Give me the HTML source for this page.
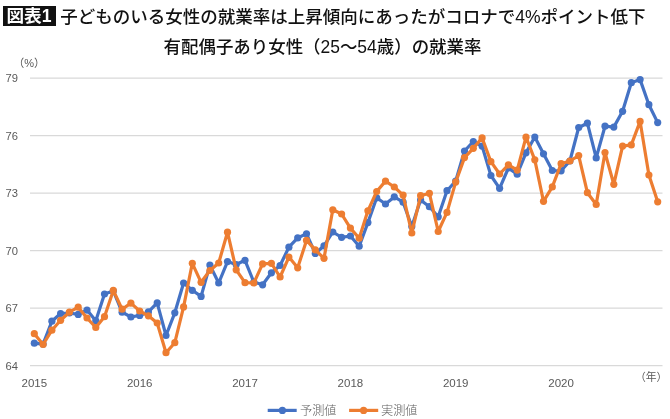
<!DOCTYPE html>
<html lang="ja"><head><meta charset="utf-8"><title>図表1</title>
<style>
html,body{margin:0;padding:0;background:#fff;}
body{width:670px;height:419px;position:relative;overflow:hidden;font-family:"Liberation Sans","Noto Sans CJK JP",sans-serif;color:#111;}
.tag{position:absolute;left:3px;top:6px;width:53px;text-indent:-1px;height:20px;background:#111;color:#fff;font-weight:700;font-size:17.6px;line-height:20px;text-align:center;white-space:nowrap;}
.title{position:absolute;left:60.3px;top:3.7px;font-weight:500;font-size:17.5px;line-height:26px;white-space:nowrap;color:#111;}
.sub{position:absolute;left:0;width:645px;top:33.8px;text-align:center;font-weight:500;font-size:17.45px;line-height:26px;white-space:nowrap;color:#111;}
</style></head><body>
<svg width="670" height="419" viewBox="0 0 670 419" style="position:absolute;left:0;top:0">
<line x1="30" x2="662.5" y1="78.1" y2="78.1" stroke="#d9d9d9" stroke-width="1.1"/>
<line x1="30" x2="662.5" y1="135.6" y2="135.6" stroke="#d9d9d9" stroke-width="1.1"/>
<line x1="30" x2="662.5" y1="193.1" y2="193.1" stroke="#d9d9d9" stroke-width="1.1"/>
<line x1="30" x2="662.5" y1="250.6" y2="250.6" stroke="#d9d9d9" stroke-width="1.1"/>
<line x1="30" x2="662.5" y1="308.1" y2="308.1" stroke="#d9d9d9" stroke-width="1.1"/>
<line x1="30" x2="662.5" y1="365.6" y2="365.6" stroke="#d9d9d9" stroke-width="1.1"/>
<polyline points="34.3,343.2 43.1,344.1 51.9,321.2 60.6,313.5 69.4,313.0 78.2,314.4 87.0,310.1 95.8,320.8 104.5,294.0 113.3,291.0 122.1,312.2 130.9,317.0 139.7,315.4 148.4,311.9 157.2,302.9 166.0,335.5 174.8,312.8 183.6,283.0 192.3,290.3 201.1,296.4 209.9,265.1 218.7,283.0 227.5,261.6 236.2,264.5 245.0,260.3 253.8,282.0 262.6,284.8 271.4,272.8 280.1,265.5 288.9,247.2 297.7,237.9 306.5,233.8 315.3,253.5 324.0,245.8 332.8,232.0 341.6,237.3 350.4,236.0 359.2,246.2 367.9,222.6 376.7,197.8 385.5,204.0 394.3,196.9 403.1,202.2 411.8,226.5 420.6,200.0 429.4,206.7 438.2,216.8 447.0,190.7 455.7,181.0 464.5,151.0 473.3,141.5 482.1,146.1 490.9,175.5 499.6,188.3 508.4,168.0 517.2,174.2 526.0,152.8 534.8,137.0 543.5,153.8 552.3,170.5 561.1,170.8 569.9,161.0 578.7,127.5 587.4,123.2 596.2,157.9 605.0,126.2 613.8,127.1 622.6,111.3 631.3,82.7 640.1,79.6 648.9,104.7 657.7,122.6" fill="none" stroke="#4472C4" stroke-width="3.2" stroke-linejoin="round" stroke-linecap="round"/>
<g fill="#4472C4"><circle cx="34.3" cy="343.2" r="3.6"/><circle cx="43.1" cy="344.1" r="3.6"/><circle cx="51.9" cy="321.2" r="3.6"/><circle cx="60.6" cy="313.5" r="3.6"/><circle cx="69.4" cy="313.0" r="3.6"/><circle cx="78.2" cy="314.4" r="3.6"/><circle cx="87.0" cy="310.1" r="3.6"/><circle cx="95.8" cy="320.8" r="3.6"/><circle cx="104.5" cy="294.0" r="3.6"/><circle cx="113.3" cy="291.0" r="3.6"/><circle cx="122.1" cy="312.2" r="3.6"/><circle cx="130.9" cy="317.0" r="3.6"/><circle cx="139.7" cy="315.4" r="3.6"/><circle cx="148.4" cy="311.9" r="3.6"/><circle cx="157.2" cy="302.9" r="3.6"/><circle cx="166.0" cy="335.5" r="3.6"/><circle cx="174.8" cy="312.8" r="3.6"/><circle cx="183.6" cy="283.0" r="3.6"/><circle cx="192.3" cy="290.3" r="3.6"/><circle cx="201.1" cy="296.4" r="3.6"/><circle cx="209.9" cy="265.1" r="3.6"/><circle cx="218.7" cy="283.0" r="3.6"/><circle cx="227.5" cy="261.6" r="3.6"/><circle cx="236.2" cy="264.5" r="3.6"/><circle cx="245.0" cy="260.3" r="3.6"/><circle cx="253.8" cy="282.0" r="3.6"/><circle cx="262.6" cy="284.8" r="3.6"/><circle cx="271.4" cy="272.8" r="3.6"/><circle cx="280.1" cy="265.5" r="3.6"/><circle cx="288.9" cy="247.2" r="3.6"/><circle cx="297.7" cy="237.9" r="3.6"/><circle cx="306.5" cy="233.8" r="3.6"/><circle cx="315.3" cy="253.5" r="3.6"/><circle cx="324.0" cy="245.8" r="3.6"/><circle cx="332.8" cy="232.0" r="3.6"/><circle cx="341.6" cy="237.3" r="3.6"/><circle cx="350.4" cy="236.0" r="3.6"/><circle cx="359.2" cy="246.2" r="3.6"/><circle cx="367.9" cy="222.6" r="3.6"/><circle cx="376.7" cy="197.8" r="3.6"/><circle cx="385.5" cy="204.0" r="3.6"/><circle cx="394.3" cy="196.9" r="3.6"/><circle cx="403.1" cy="202.2" r="3.6"/><circle cx="411.8" cy="226.5" r="3.6"/><circle cx="420.6" cy="200.0" r="3.6"/><circle cx="429.4" cy="206.7" r="3.6"/><circle cx="438.2" cy="216.8" r="3.6"/><circle cx="447.0" cy="190.7" r="3.6"/><circle cx="455.7" cy="181.0" r="3.6"/><circle cx="464.5" cy="151.0" r="3.6"/><circle cx="473.3" cy="141.5" r="3.6"/><circle cx="482.1" cy="146.1" r="3.6"/><circle cx="490.9" cy="175.5" r="3.6"/><circle cx="499.6" cy="188.3" r="3.6"/><circle cx="508.4" cy="168.0" r="3.6"/><circle cx="517.2" cy="174.2" r="3.6"/><circle cx="526.0" cy="152.8" r="3.6"/><circle cx="534.8" cy="137.0" r="3.6"/><circle cx="543.5" cy="153.8" r="3.6"/><circle cx="552.3" cy="170.5" r="3.6"/><circle cx="561.1" cy="170.8" r="3.6"/><circle cx="569.9" cy="161.0" r="3.6"/><circle cx="578.7" cy="127.5" r="3.6"/><circle cx="587.4" cy="123.2" r="3.6"/><circle cx="596.2" cy="157.9" r="3.6"/><circle cx="605.0" cy="126.2" r="3.6"/><circle cx="613.8" cy="127.1" r="3.6"/><circle cx="622.6" cy="111.3" r="3.6"/><circle cx="631.3" cy="82.7" r="3.6"/><circle cx="640.1" cy="79.6" r="3.6"/><circle cx="648.9" cy="104.7" r="3.6"/><circle cx="657.7" cy="122.6" r="3.6"/></g>
<polyline points="34.3,333.7 43.1,344.5 51.9,330.2 60.6,320.3 69.4,312.2 78.2,307.2 87.0,318.0 95.8,327.5 104.5,316.7 113.3,290.4 122.1,309.2 130.9,303.1 139.7,311.0 148.4,315.8 157.2,323.0 166.0,352.7 174.8,342.7 183.6,306.9 192.3,263.3 201.1,282.3 209.9,270.5 218.7,263.0 227.5,232.2 236.2,269.8 245.0,282.7 253.8,283.0 262.6,263.9 271.4,263.3 280.1,277.0 288.9,257.1 297.7,267.8 306.5,240.4 315.3,249.9 324.0,258.3 332.8,209.8 341.6,214.0 350.4,228.1 359.2,238.2 367.9,210.8 376.7,191.5 385.5,181.1 394.3,187.0 403.1,195.1 411.8,233.0 420.6,195.7 429.4,193.3 438.2,231.5 447.0,212.4 455.7,182.1 464.5,157.6 473.3,148.3 482.1,137.9 490.9,161.7 499.6,174.0 508.4,164.8 517.2,170.1 526.0,137.2 534.8,159.8 543.5,201.3 552.3,186.9 561.1,163.7 569.9,161.0 578.7,155.6 587.4,192.7 596.2,204.5 605.0,152.6 613.8,184.3 622.6,146.1 631.3,144.9 640.1,121.4 648.9,175.0 657.7,201.8" fill="none" stroke="#ED7D31" stroke-width="3.2" stroke-linejoin="round" stroke-linecap="round"/>
<g fill="#ED7D31"><circle cx="34.3" cy="333.7" r="3.6"/><circle cx="43.1" cy="344.5" r="3.6"/><circle cx="51.9" cy="330.2" r="3.6"/><circle cx="60.6" cy="320.3" r="3.6"/><circle cx="69.4" cy="312.2" r="3.6"/><circle cx="78.2" cy="307.2" r="3.6"/><circle cx="87.0" cy="318.0" r="3.6"/><circle cx="95.8" cy="327.5" r="3.6"/><circle cx="104.5" cy="316.7" r="3.6"/><circle cx="113.3" cy="290.4" r="3.6"/><circle cx="122.1" cy="309.2" r="3.6"/><circle cx="130.9" cy="303.1" r="3.6"/><circle cx="139.7" cy="311.0" r="3.6"/><circle cx="148.4" cy="315.8" r="3.6"/><circle cx="157.2" cy="323.0" r="3.6"/><circle cx="166.0" cy="352.7" r="3.6"/><circle cx="174.8" cy="342.7" r="3.6"/><circle cx="183.6" cy="306.9" r="3.6"/><circle cx="192.3" cy="263.3" r="3.6"/><circle cx="201.1" cy="282.3" r="3.6"/><circle cx="209.9" cy="270.5" r="3.6"/><circle cx="218.7" cy="263.0" r="3.6"/><circle cx="227.5" cy="232.2" r="3.6"/><circle cx="236.2" cy="269.8" r="3.6"/><circle cx="245.0" cy="282.7" r="3.6"/><circle cx="253.8" cy="283.0" r="3.6"/><circle cx="262.6" cy="263.9" r="3.6"/><circle cx="271.4" cy="263.3" r="3.6"/><circle cx="280.1" cy="277.0" r="3.6"/><circle cx="288.9" cy="257.1" r="3.6"/><circle cx="297.7" cy="267.8" r="3.6"/><circle cx="306.5" cy="240.4" r="3.6"/><circle cx="315.3" cy="249.9" r="3.6"/><circle cx="324.0" cy="258.3" r="3.6"/><circle cx="332.8" cy="209.8" r="3.6"/><circle cx="341.6" cy="214.0" r="3.6"/><circle cx="350.4" cy="228.1" r="3.6"/><circle cx="359.2" cy="238.2" r="3.6"/><circle cx="367.9" cy="210.8" r="3.6"/><circle cx="376.7" cy="191.5" r="3.6"/><circle cx="385.5" cy="181.1" r="3.6"/><circle cx="394.3" cy="187.0" r="3.6"/><circle cx="403.1" cy="195.1" r="3.6"/><circle cx="411.8" cy="233.0" r="3.6"/><circle cx="420.6" cy="195.7" r="3.6"/><circle cx="429.4" cy="193.3" r="3.6"/><circle cx="438.2" cy="231.5" r="3.6"/><circle cx="447.0" cy="212.4" r="3.6"/><circle cx="455.7" cy="182.1" r="3.6"/><circle cx="464.5" cy="157.6" r="3.6"/><circle cx="473.3" cy="148.3" r="3.6"/><circle cx="482.1" cy="137.9" r="3.6"/><circle cx="490.9" cy="161.7" r="3.6"/><circle cx="499.6" cy="174.0" r="3.6"/><circle cx="508.4" cy="164.8" r="3.6"/><circle cx="517.2" cy="170.1" r="3.6"/><circle cx="526.0" cy="137.2" r="3.6"/><circle cx="534.8" cy="159.8" r="3.6"/><circle cx="543.5" cy="201.3" r="3.6"/><circle cx="552.3" cy="186.9" r="3.6"/><circle cx="561.1" cy="163.7" r="3.6"/><circle cx="569.9" cy="161.0" r="3.6"/><circle cx="578.7" cy="155.6" r="3.6"/><circle cx="587.4" cy="192.7" r="3.6"/><circle cx="596.2" cy="204.5" r="3.6"/><circle cx="605.0" cy="152.6" r="3.6"/><circle cx="613.8" cy="184.3" r="3.6"/><circle cx="622.6" cy="146.1" r="3.6"/><circle cx="631.3" cy="144.9" r="3.6"/><circle cx="640.1" cy="121.4" r="3.6"/><circle cx="648.9" cy="175.0" r="3.6"/><circle cx="657.7" cy="201.8" r="3.6"/></g>
<line x1="267.7" x2="296.7" y1="410.4" y2="410.4" stroke="#4472C4" stroke-width="3.2"/><circle cx="282.4" cy="410.4" r="3.6" fill="#4472C4"/>
<line x1="349.1" x2="378.2" y1="410.4" y2="410.4" stroke="#ED7D31" stroke-width="3.2"/><circle cx="363.6" cy="410.4" r="3.6" fill="#ED7D31"/>
<g font-family="'Liberation Sans','Noto Sans CJK JP',sans-serif" fill="#595959">
<text x="5.6" y="82.1" font-size="11.2">79</text>
<text x="5.6" y="139.6" font-size="11.2">76</text>
<text x="5.6" y="197.1" font-size="11.2">73</text>
<text x="5.6" y="254.6" font-size="11.2">70</text>
<text x="5.6" y="312.1" font-size="11.2">67</text>
<text x="5.6" y="369.6" font-size="11.2">64</text>
<text x="34.3" y="386.7" font-size="11.5" text-anchor="middle">2015</text>
<text x="139.7" y="386.7" font-size="11.5" text-anchor="middle">2016</text>
<text x="245.0" y="386.7" font-size="11.5" text-anchor="middle">2017</text>
<text x="350.4" y="386.7" font-size="11.5" text-anchor="middle">2018</text>
<text x="455.7" y="386.7" font-size="11.5" text-anchor="middle">2019</text>
<text x="561.1" y="386.7" font-size="11.5" text-anchor="middle">2020</text>
<text x="13.2" y="67" font-size="11">（%）</text>
<text x="651.2" y="380.6" font-size="10.8" text-anchor="middle">（年）</text>
<text x="300" y="414.8" font-size="12.2" font-weight="300" fill="#5f5f5f">予測値</text>
<text x="381" y="414.8" font-size="12.2" font-weight="300" fill="#5f5f5f">実測値</text>
</g>
</svg>
<div class="tag">図表1</div>
<div class="title">子どものいる女性の就業率は上昇傾向にあったがコロナで4%ポイント低下</div>
<div class="sub">有配偶子あり女性（25〜54歳）の就業率</div>
</body></html>
